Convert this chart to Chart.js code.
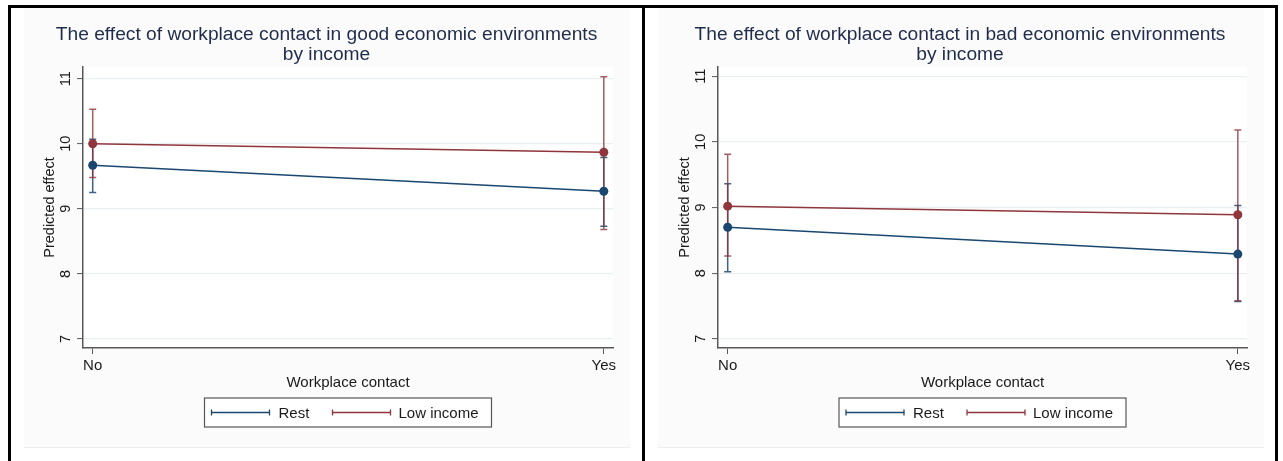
<!DOCTYPE html>
<html>
<head>
<meta charset="utf-8">
<script src="https://cdn.jsdelivr.net/npm/chart.js@4.4.1/dist/chart.umd.min.js"></script>
<style>
  body { margin: 0; background: #fff; width: 1283px; height: 461px; overflow: hidden; position: relative; }
  .panel { position: absolute; top: 5px; height: 480px; border: 3px solid #000; box-sizing: border-box; background: #fff; }
  #p1 { left: 8px; width: 637px; }
  #p2 { left: 642px; width: 636px; }
  canvas { position: absolute; left: 0; top: 0; }
</style>
</head>
<body>
<div class="panel" id="p1"><canvas id="good" width="631" height="453"></canvas></div>
<div class="panel" id="p2"><canvas id="bad" width="630" height="453"></canvas></div>
<script>
// categories on the x axis (0 = No, 1 = Yes)
const categories = ['No', 'Yes'];
const yTicks = [7, 8, 9, 10, 11];
const seriesNames = ['Rest', 'Low income'];

// good economic environments
const goodRest = [9.67, 9.27];
const goodRestLo = [9.25, 8.73];
const goodRestHi = [10.07, 9.79];
const goodLow = [10.0, 9.87];
const goodLowLo = [9.48, 8.68];
const goodLowHi = [10.53, 11.03];

// bad economic environments
const badRest = [8.70, 8.29];
const badRestLo = [8.02, 7.57];
const badRestHi = [9.36, 9.03];
const badLow = [9.02, 8.89];
const badLowLo = [8.26, 7.58];
const badLowHi = [9.81, 10.18];

const colors = {
    rest: '#1a476f',       // stata navy
    low: '#90353b',        // stata maroon
    restCI: 'rgba(26,71,111,0.85)',
    lowCI: 'rgba(144,53,59,0.8)',
    grid: '#e9f0f2',
    axis: '#585858',
    title: '#1f2c4c',
    text: '#1a1a1a'
};
const FONT = '"Liberation Sans", Arial, Helvetica, sans-serif';

function toPoints(vals) {
    return vals.map((v, i) => ({ x: i, y: v }));
}

// draws the stata-like extras: background, CIs, texts, legend
function stataPlugin(title) {
    return {
        id: 'stataDecor',
        beforeDraw(chart) {
            const ctx = chart.ctx;
            ctx.save();
            ctx.fillStyle = '#fbfbfb';
            ctx.fillRect(13, 0, 606, 439);
            ctx.strokeStyle = '#eeeeee';
            ctx.lineWidth = 1;
            ctx.beginPath();
            ctx.moveTo(13, 439.5);
            ctx.lineTo(619, 439.5);
            ctx.stroke();
            const a = chart.chartArea;
            ctx.fillStyle = '#ffffff';
            ctx.fillRect(a.left, a.top, a.right - a.left, a.bottom - a.top);
            ctx.restore();
        },
        beforeDatasetsDraw(chart) {
            const ctx = chart.ctx;
            const xs = chart.scales.x, ys = chart.scales.y;
            const cis = chart.options.plugins.stataDecor.cis;
            ctx.save();
            ctx.lineWidth = 1.5;
            cis.forEach(ci => {
                ctx.strokeStyle = ci.color;
                ci.lo.forEach((lo, i) => {
                    const x = xs.getPixelForValue(i);
                    const y1 = ys.getPixelForValue(lo);
                    const y2 = ys.getPixelForValue(ci.hi[i]);
                    ctx.beginPath();
                    ctx.moveTo(x, y1); ctx.lineTo(x, y2);
                    ctx.moveTo(x - 3.5, y1); ctx.lineTo(x + 3.5, y1);
                    ctx.moveTo(x - 3.5, y2); ctx.lineTo(x + 3.5, y2);
                    ctx.stroke();
                });
            });
            ctx.restore();
        },
        afterDraw(chart) {
            const ctx = chart.ctx;
            const a = chart.chartArea;
            const xs = chart.scales.x, ys = chart.scales.y;
            const cx = (a.left + a.right) / 2;
            ctx.save();

            // title
            ctx.fillStyle = colors.title;
            ctx.font = '19.2px ' + FONT;
            ctx.textAlign = 'center';
            ctx.textBaseline = 'middle';
            ctx.fillText(title[0], chart.width / 2, 26.5);
            ctx.fillText(title[1], chart.width / 2, 46.5);

            // y tick labels, rotated like stata
            ctx.fillStyle = colors.text;
            ctx.font = '14.5px ' + FONT;
            yTicks.forEach(t => {
                ctx.save();
                ctx.translate(a.left - 17.5, ys.getPixelForValue(t));
                ctx.rotate(-Math.PI / 2);
                ctx.fillText(String(t), 0, 0);
                ctx.restore();
            });

            // y axis title
            ctx.save();
            ctx.translate(a.left - 33.5, (a.top + a.bottom) / 2);
            ctx.rotate(-Math.PI / 2);
            ctx.fillText('Predicted effect', 0, 0);
            ctx.restore();

            // x tick labels and title
            ctx.font = '15px ' + FONT;
            categories.forEach((c, i) => {
                ctx.fillText(c, xs.getPixelForValue(i), a.bottom + 18);
            });
            ctx.fillText('Workplace contact', cx, a.bottom + 34.5);

            // legend
            const top = a.bottom + 50, h = 29;
            ctx.fillStyle = '#ffffff';
            ctx.fillRect(cx - 143.5, top, 287, h);
            ctx.strokeStyle = colors.axis;
            ctx.lineWidth = 1.2;
            ctx.strokeRect(cx - 143.5, top, 287, h);
            const ly = top + h / 2;
            const items = [
                { name: seriesNames[0], color: colors.rest, x0: cx - 136.5, tx: cx - 69.5 },
                { name: seriesNames[1], color: colors.low, x0: cx - 15.5, tx: cx + 50.5 }
            ];
            items.forEach(it => {
                ctx.strokeStyle = it.color;
                ctx.lineWidth = 1.3;
                ctx.beginPath();
                ctx.moveTo(it.x0, ly); ctx.lineTo(it.x0 + 58, ly);
                ctx.moveTo(it.x0, ly - 3); ctx.lineTo(it.x0, ly + 3);
                ctx.moveTo(it.x0 + 58, ly - 3); ctx.lineTo(it.x0 + 58, ly + 3);
                ctx.stroke();
                ctx.fillStyle = colors.text;
                ctx.textAlign = 'left';
                ctx.fillText(it.name, it.tx, ly + 1);
            });
            ctx.restore();
        }
    };
}

function makeChart(id, title, rest, low, cis, yMin, yMax, padLeft, padRight) {
    const ctx = document.getElementById(id);
    return new Chart(ctx.getContext('2d'), {
        type: 'line',
        data: {
            datasets: [
                {
                    label: seriesNames[0],
                    data: toPoints(rest),
                    borderColor: colors.rest,
                    backgroundColor: colors.rest,
                    borderWidth: 1.5,
                    pointRadius: 4.5,
                    pointBorderWidth: 0,
                    tension: 0
                },
                {
                    label: seriesNames[1],
                    data: toPoints(low),
                    borderColor: colors.low,
                    backgroundColor: colors.low,
                    borderWidth: 1.5,
                    pointRadius: 4.5,
                    pointBorderWidth: 0,
                    tension: 0
                }
            ]
        },
        options: {
            responsive: false,
            animation: false,
            events: [],
            layout: { padding: { left: padLeft, right: padRight, top: 59, bottom: 113 } },
            scales: {
                x: {
                    type: 'linear',
                    min: -0.019,
                    max: 1.018,
                    afterBuildTicks: s => { s.ticks = categories.map((c, i) => ({ value: i })); },
                    afterFit: s => { s.height = 0; },
                    ticks: { display: false },
                    border: { display: true, color: colors.axis, width: 1.5 },
                    grid: { drawOnChartArea: false, drawTicks: true, tickLength: 6, tickColor: colors.axis, tickWidth: 1 }
                },
                y: {
                    min: yMin,
                    max: yMax,
                    afterBuildTicks: s => { s.ticks = yTicks.map(v => ({ value: v })); },
                    afterFit: s => { s.width = 0; },
                    ticks: { display: false },
                    border: { display: true, color: colors.axis, width: 1.5 },
                    grid: { color: colors.grid, lineWidth: 1.2, drawTicks: true, tickLength: 6, tickColor: colors.axis, tickWidth: 1 }
                }
            },
            plugins: {
                legend: { display: false },
                title: { display: false },
                tooltip: { enabled: false },
                stataDecor: { cis }
            }
        },
        plugins: [stataPlugin(title)]
    });
}

makeChart('good',
    ['The effect of workplace contact in good economic environments', 'by income'],
    goodRest, goodLow,
    [
        { lo: goodRestLo, hi: goodRestHi, color: colors.restCI },
        { lo: goodLowLo, hi: goodLowHi, color: colors.lowCI }
    ],
    6.86, 11.18, 72, 29);

makeChart('bad',
    ['The effect of workplace contact in bad economic environments', 'by income'],
    badRest, badLow,
    [
        { lo: badRestLo, hi: badRestHi, color: colors.restCI },
        { lo: badLowLo, hi: badLowHi, color: colors.lowCI }
    ],
    6.86, 11.14, 73, 28);
</script>
</body>
</html>
